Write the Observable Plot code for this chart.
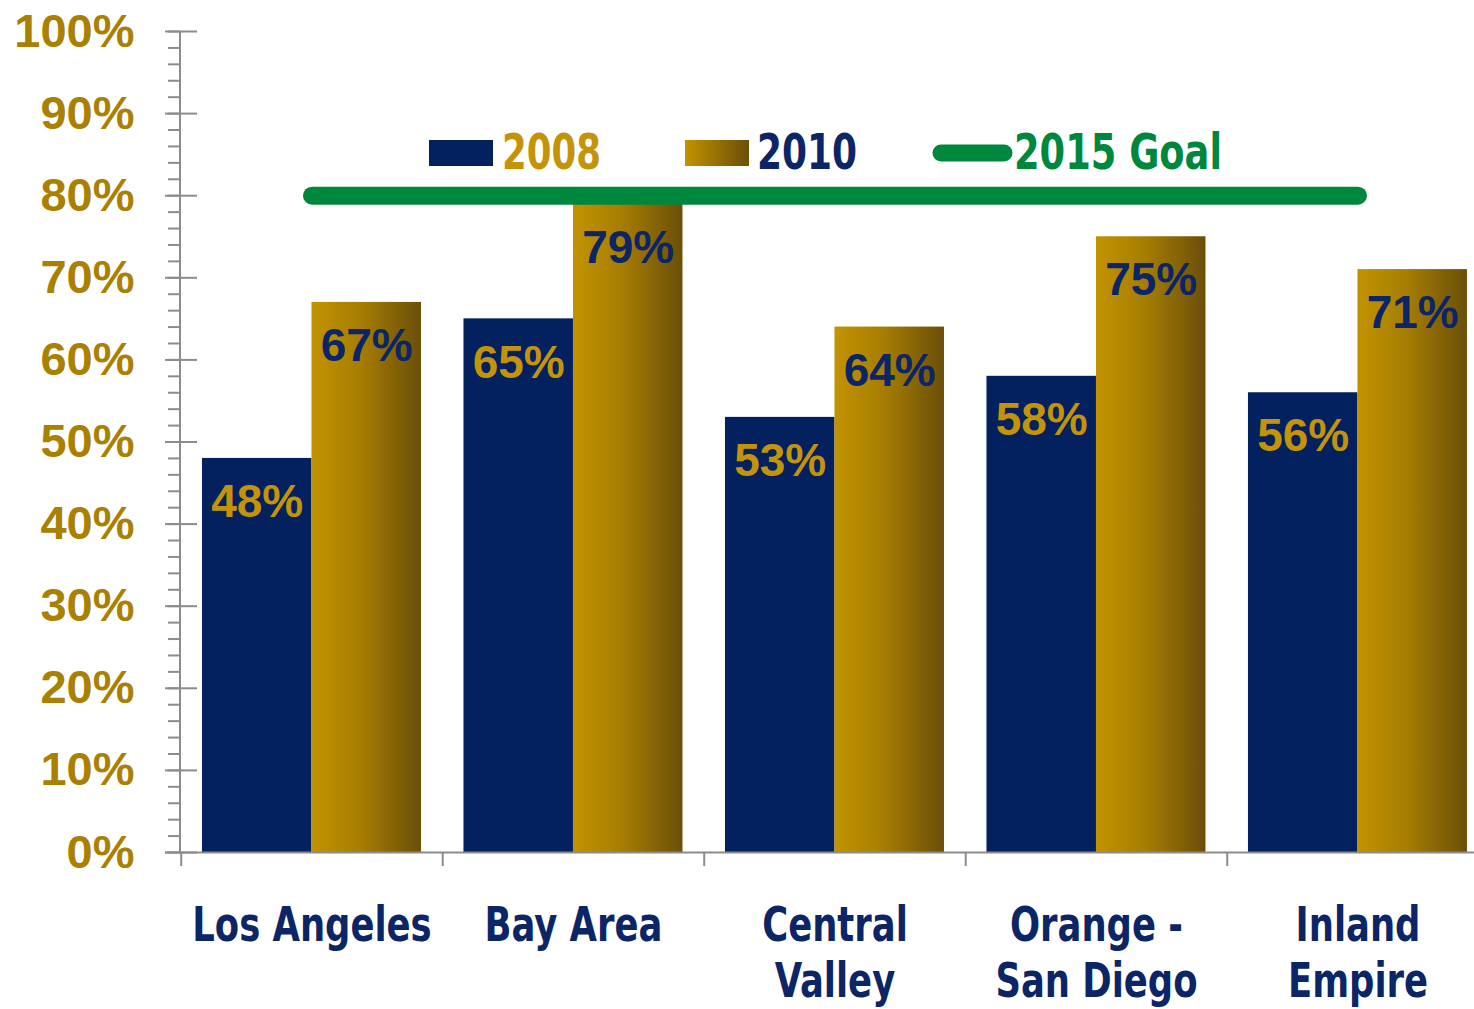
<!DOCTYPE html>
<html>
<head>
<meta charset="utf-8">
<script src="https://cdn.jsdelivr.net/npm/d3@7"></script>
<script src="https://cdn.jsdelivr.net/npm/@observablehq/plot@0.6"></script>
<style>
  html, body { margin: 0; padding: 0; background: #fff; }
  #wrap { position: relative; width: 1474px; height: 1009px; overflow: hidden; }
  #legend { position: absolute; left: 0; top: 0; pointer-events: none; }
</style>
</head>
<body>
<div id="wrap"></div>
<script>
// ---- data ----
const categories = ["Los Angeles", "Bay Area", "Central\nValley", "Orange -\nSan Diego", "Inland\nEmpire"];
const values2008 = [48, 65, 53, 58, 56];
const values2010 = [67, 79, 64, 75, 71];
const goalValue = 80;
const seriesNames = ["2008", "2010", "2015 Goal"];
const yTicks = d3.range(0, 101, 10);
const yMinorTicks = d3.range(0, 101, 2);

// ---- tables ----
const rows2008 = categories.map((c, i) => ({cat: c, v: values2008[i]}));
const rows2010 = categories.map((c, i) => ({cat: c, v: values2010[i]}));
const goalRows = categories.map(c => ({cat: c, v: goalValue}));

// ---- style ----
const NAVY = "#03215e";
const NAVY_TEXT = "#0b2566";
const GOLD_TEXT = "#c3940a";
const AXIS_GOLD = "#a98000";
const GREEN = "#00873e";
const GRAY = "#8c8c8c";
const NUM_FONT = "'Liberation Sans', Arial, sans-serif";
const NARROW_FONT = "'DejaVu Sans Condensed', 'DejaVu Sans', sans-serif";
const NARROW_SCALE = 0.82;

const W = 1474, H = 1009;
const left = 180;
const step = 261.5, pIn = 0.1625, pOut = 0.084;
const n = categories.length;
const xRange = [left, left + step * (n - pIn + 2 * pOut)];
const bw = step * (1 - pIn);
const half = bw / 2;

// vertical y-axis line drawn with the y scale
function yAxisLine(index, scales, values, dimensions) {
  const g = d3.create("svg:g");
  g.append("line")
    .attr("x1", dimensions.marginLeft).attr("x2", dimensions.marginLeft)
    .attr("y1", scales.y(yTicks[yTicks.length - 1])).attr("y2", scales.y(yTicks[0]))
    .attr("stroke", GRAY).attr("stroke-width", 2);
  return g.node();
}

const chart = Plot.plot({
  width: W,
  height: H,
  marginTop: 31,
  marginBottom: 157,
  marginLeft: left,
  marginRight: 0,
  style: {background: "#fff", overflow: "visible"},
  x: {domain: categories, range: xRange, paddingInner: pIn, paddingOuter: pOut, align: 0.5, round: false, axis: null, label: null},
  y: {domain: [0, 100], axis: null, label: null},
  marks: [
    // bars
    Plot.barY(rows2008, {x: "cat", y: "v", fill: NAVY, insetRight: half}),
    Plot.barY(rows2010, {x: "cat", y: "v", fill: "url(#goldGrad)", insetLeft: half}),
    // goal line
    Plot.line(goalRows, {x: "cat", y: "v", stroke: GREEN, strokeWidth: 18, strokeLinecap: "round"}),
    // value labels
    Plot.text(rows2008, {x: "cat", y: "v", text: d => d.v + "%", dx: -half / 2, dy: 26, lineAnchor: "top",
      fill: GOLD_TEXT, fontFamily: NUM_FONT, fontWeight: "bold", fontSize: 46}),
    Plot.text(rows2010, {x: "cat", y: "v", text: d => d.v + "%", dx: half / 2, dy: 26, lineAnchor: "top",
      fill: NAVY_TEXT, fontFamily: NUM_FONT, fontWeight: "bold", fontSize: 46}),
    // x axis line
    Plot.ruleY([0], {stroke: GRAY, strokeWidth: 2, insetLeft: -15}),
    // category boundary ticks
    Plot.axisX({ticks: categories, tickSize: 14, text: null, label: null, dx: -step / 2, stroke: GRAY, strokeWidth: 2}),
    // category labels
    Plot.text(categories, {x: d => d, y: () => 0, dy: 49, lineAnchor: "top", lineHeight: 1.16,
      fill: NAVY_TEXT, fontFamily: NARROW_FONT, fontWeight: "bold", fontSize: 48}),
    // y axis: minor ticks, major ticks (both sides), line, labels
    Plot.axisY({ticks: yMinorTicks, tickSize: 12, text: null, label: null, stroke: GRAY, strokeWidth: 2}),
    Plot.axisY({ticks: yTicks, tickSize: 32, dx: 17, text: null, label: null, stroke: GRAY, strokeWidth: 2}),
    yAxisLine,
    Plot.axisY({ticks: yTicks, tickSize: 0, tickPadding: 46, label: null, tickFormat: d => d + "%",
      fill: AXIS_GOLD, fontFamily: NUM_FONT, fontWeight: "bold", fontSize: 47})
  ]
});

// gradient definition for the 2010 bars
const svgSel = d3.select(chart);
const defs = svgSel.insert("defs", ":first-child");
const g = defs.append("linearGradient").attr("id", "goldGrad")
  .attr("x1", "0").attr("y1", "0").attr("x2", "1").attr("y2", "0");
g.append("stop").attr("offset", "0%").attr("stop-color", "#c29300");
g.append("stop").attr("offset", "45%").attr("stop-color", "#a67d02");
g.append("stop").attr("offset", "100%").attr("stop-color", "#6a4f08");

// condense the category labels horizontally (narrow bold face)
svgSel.selectAll('g[font-size="48"] text').each(function () {
  const t = this.getAttribute("transform");
  if (t) {
    this.setAttribute("transform", t + ` scale(${NARROW_SCALE},1)`);
  } else {
    const x = +this.getAttribute("x") || 0, y = +this.getAttribute("y") || 0;
    this.removeAttribute("x"); this.removeAttribute("y");
    this.setAttribute("transform", `translate(${x},${y}) scale(${NARROW_SCALE},1)`);
  }
});

const wrap = document.getElementById("wrap");
wrap.appendChild(chart);

// legend (overlay inside the plot area, as in the original)
const leg = d3.select(wrap).append("svg").attr("id", "legend")
  .attr("width", W).attr("height", 220);
const lg = leg.append("defs").append("linearGradient").attr("id", "goldGradL")
  .attr("x1", "0").attr("y1", "0").attr("x2", "1").attr("y2", "0");
lg.append("stop").attr("offset", "0%").attr("stop-color", "#c29300");
lg.append("stop").attr("offset", "100%").attr("stop-color", "#6a4f08");

const legendItems = [
  {name: seriesNames[0], swatch: "rect", fill: NAVY, text: GOLD_TEXT, sx: 429, tx: 502, len: 99},
  {name: seriesNames[1], swatch: "rect", fill: "url(#goldGradL)", text: NAVY_TEXT, sx: 685, tx: 757, len: 100},
  {name: seriesNames[2], swatch: "line", fill: GREEN, text: GREEN, sx: 941, tx: 1014, len: 208}
];
for (const it of legendItems) {
  if (it.swatch === "rect") {
    leg.append("rect").attr("x", it.sx).attr("y", 140).attr("width", 64).attr("height", 26).attr("fill", it.fill);
  } else {
    leg.append("line").attr("x1", it.sx).attr("x2", it.sx + 63).attr("y1", 153).attr("y2", 153)
      .attr("stroke", it.fill).attr("stroke-width", 17).attr("stroke-linecap", "round");
  }
  leg.append("text").attr("x", it.tx).attr("y", 169).text(it.name)
    .attr("fill", it.text).attr("font-family", NARROW_FONT).attr("font-weight", "bold")
    .attr("font-size", 49).attr("textLength", it.len).attr("lengthAdjust", "spacingAndGlyphs");
}
</script>
</body>
</html>
